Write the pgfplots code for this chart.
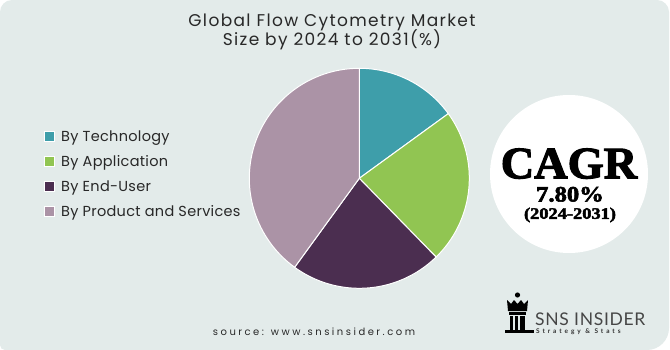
\documentclass[border=0pt]{standalone}
\usepackage{fontspec}
\usepackage{pgfplots}
\usepackage{pgfplotstable}
\pgfplotsset{compat=1.18}
\setmainfont{Poppins}
\newfontfamily\titlefont{Poppins}[LetterSpace=8]
\newfontfamily\legfont{Poppins}[LetterSpace=2]
\newfontfamily\srcfont{Poppins}[LetterSpace=25]
\newfontfamily\cagrfont{Liberation Serif}[BoldFeatures={FakeBold=2.5}]
\newfontfamily\logofont{Lato}[LetterSpace=4]
\newfontfamily\tagfont{Lato}[LetterSpace=45]
\definecolor{panel}{RGB}{227,235,234}
\definecolor{cTeal}{RGB}{62,158,170}
\definecolor{cGreen}{RGB}{145,197,82}
\definecolor{cPurple}{RGB}{75,46,80}
\definecolor{cMauve}{RGB}{171,147,166}
\definecolor{txt}{RGB}{40,40,40}
\begin{document}%
\begin{tikzpicture}[x=1pt,y=1pt]
\pgfplotstableread{
slice value
Technology 15.0
Application 22.7
EndUser 22.3
Product 40.0
}\piedata
\pgfmathsetmacro\aA{90}
\pgfplotstablegetelem{0}{value}\of\piedata \pgfmathsetmacro\aB{\aA-3.6*\pgfplotsretval}
\pgfplotstablegetelem{1}{value}\of\piedata \pgfmathsetmacro\aC{\aB-3.6*\pgfplotsretval}
\pgfplotstablegetelem{2}{value}\of\piedata \pgfmathsetmacro\aD{\aC-3.6*\pgfplotsretval}
\pgfplotstablegetelem{3}{value}\of\piedata \pgfmathsetmacro\aE{\aD-3.6*\pgfplotsretval}
\useasboundingbox (0,0) rectangle (670,-350);
\fill[white] (0,0) rectangle (670,-350);
\fill[panel] (0,-175) [rounded corners=12pt] -- (0,0) -- (669,0) [rounded corners=22pt] -- (669,-350) [rounded corners=5pt] -- (0,-350) -- (0,-175) -- cycle;
% title
\node[anchor=base, text=txt, font=\titlefont\fontsize{17}{19}\selectfont] at (332,-26.7) {Global Flow Cytometry Market};
\node[anchor=base, text=txt, font=\titlefont\fontsize{17}{19}\selectfont] at (332,-45.7) {Size by 2024 to 2031(\%)};
% pie
\begin{axis}[at={(359.3pt,-178.3pt)}, anchor=center, width=220pt, height=220pt,
  scale only axis, hide axis, xmin=-1, xmax=1, ymin=-1, ymax=1, clip=false]
\addplot[draw=white, line width=1pt, fill=cTeal, domain=\aB:\aA, samples=60] ({cos(x)},{sin(x)}) -- (axis cs:0,0) -- cycle;
\addplot[draw=white, line width=1pt, fill=cGreen, domain=\aC:\aB, samples=60] ({cos(x)},{sin(x)}) -- (axis cs:0,0) -- cycle;
\addplot[draw=white, line width=1pt, fill=cPurple, domain=\aD:\aC, samples=60] ({cos(x)},{sin(x)}) -- (axis cs:0,0) -- cycle;
\addplot[draw=white, line width=1pt, fill=cMauve, domain=\aE:\aD, samples=100] ({cos(x)},{sin(x)}) -- (axis cs:0,0) -- cycle;
\end{axis}
% legend
\foreach \c/\y/\t in {cTeal/136.7/By Technology, cGreen/161.7/By Application, cPurple/186.7/By End-User, cMauve/211.2/By Product and Services}{
  \fill[\c, draw=white, line width=0.4pt] (44,-\y+5) rectangle (54,-\y-5);
  \node[anchor=base west, inner sep=0pt, text=txt, font=\legfont\fontsize{14.5}{16}\selectfont] at (61,-\y-5) {\t};
}
% CAGR circle
\fill[white] (569,-174) circle[radius=79];
\node[anchor=base, inner sep=0pt, xscale=1.03, font=\cagrfont\bfseries\fontsize{45}{45}\selectfont] at (569,-178.3) {CAGR};
\node[anchor=base, inner sep=0pt, xscale=1.12, font=\cagrfont\bfseries\fontsize{22}{22}\selectfont] at (570,-201.5) {7.80\%};
\node[anchor=base, inner sep=0pt, xscale=1.15, font=\cagrfont\bfseries\fontsize{16}{16}\selectfont] at (570,-218.8) {(2024-2031)};
% source
\node[anchor=base, inner sep=0pt, text=txt, font=\srcfont\fontsize{10}{12}\selectfont] at (314,-335) {source: www.snsinsider.com};
% logo
\fill[black] (517.5,-295) circle[radius=2.6];
\fill[black] (507,-300) -- (511,-304) -- (514,-300) -- (517.5,-304) -- (521,-300) -- (524,-304) -- (528,-300) -- (527,-311) -- (508,-311) -- cycle;
\fill[black] (509,-312) rectangle (526,-315);
\fill[black] (510,-316) rectangle (513,-331);
\fill[black] (515,-316) rectangle (518,-331);
\fill[black] (520,-316) rectangle (525,-331);
\fill[black] (505,-330) rectangle (534,-333);
\node[anchor=base west, inner sep=0pt, text={rgb,255:red,70;green,70;blue,70}, font=\logofont\fontsize{17.5}{18}\selectfont] at (535,-325) {SNS INSIDER};
\node[anchor=base west, inner sep=0pt, text={rgb,255:red,50;green,50;blue,50}, font=\tagfont\bfseries\fontsize{6.5}{7}\selectfont] at (536,-333.5) {Strategy \& Stats};
\end{tikzpicture}%
\end{document}
